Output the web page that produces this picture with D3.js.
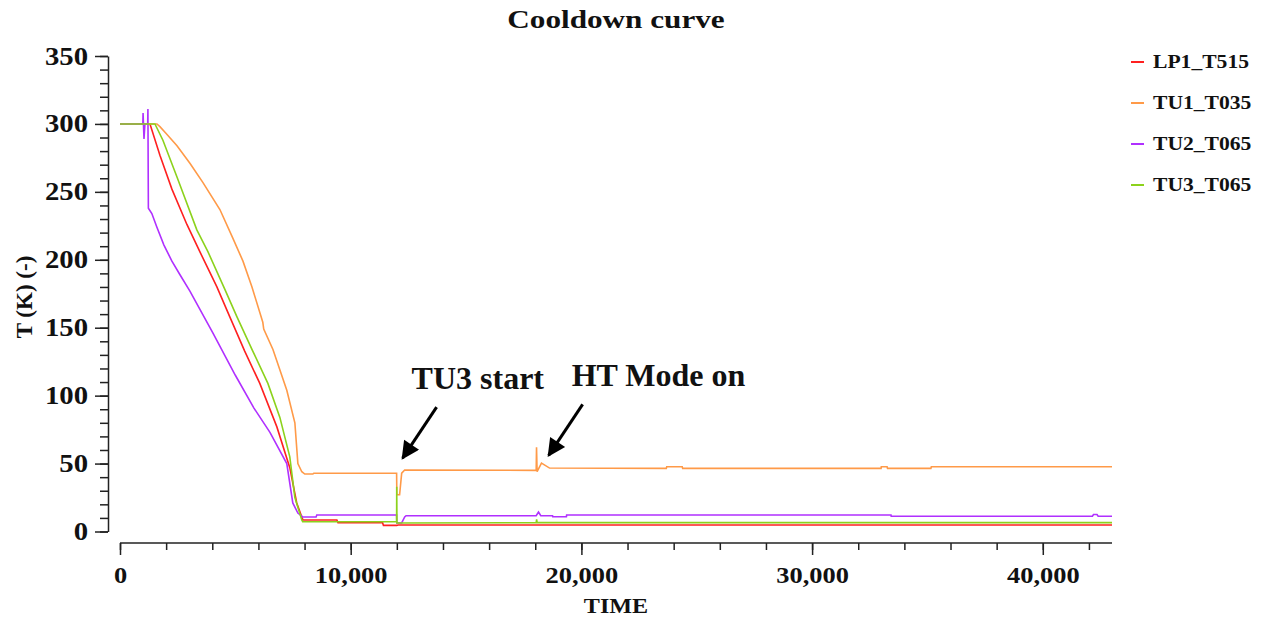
<!DOCTYPE html>
<html>
<head>
<meta charset="utf-8">
<script src="https://cdn.jsdelivr.net/npm/d3@7"></script>
<style>
  body { margin: 0; background: #fff; }
  text { font-family: "Liberation Serif", "Times New Roman", serif; font-weight: bold; fill: #111; }
</style>
</head>
<body>
<div id="chart"></div>
<script>
// chart size
const width = 1270;
const height = 617;

// series : time (s) and temperature (K)
const lp1Time = [0, 1300, 1730, 2250, 2900, 3460, 4200, 4760, 5400, 6060, 6800, 7360, 7660, 7880, 7930, 9400, 9450, 11380, 11420, 12000, 12050, 43000];
const lp1Temp = [300, 300, 277, 252, 226, 206, 180, 158, 133, 109, 77, 47, 21, 10.7, 8.5, 8.5, 6.5, 6.5, 4.5, 4.5, 4.8, 4.8];

const tu1Time = [0, 1600, 1730, 2000, 2470, 3030, 3590, 4330, 4890, 5330, 5720, 6190, 6230, 6630, 7230, 7580, 7710, 7880, 8010, 8360, 8400, 11990, 12000, 12120, 12210, 12340, 18040, 18055, 18080, 18270, 18620, 23680, 23700, 24370, 24390, 32990, 33000, 33250, 33270, 35150, 35170, 43000];
const tu1Temp = [300, 300, 298, 293, 284, 271, 257, 237, 216, 199, 180, 154, 149, 134, 104, 80, 50, 44, 42.3, 42.3, 42.9, 42.9, 27, 27, 42.9, 45.3, 45, 62, 44, 50.4, 46.7, 46.5, 47.7, 47.7, 46.5, 46.5, 47.7, 47.7, 46.5, 46.5, 47.7, 47.7];

const tu2Time = [0, 990, 1000, 1040, 1080, 1200, 1210, 1230, 1380, 1600, 1900, 2250, 2600, 3030, 4030, 5000, 5800, 6500, 7230, 7490, 7710, 7920, 8500, 8530, 11990, 12000, 12210, 12340, 12400, 18040, 18140, 18240, 18750, 18760, 19350, 19360, 33420, 33430, 42150, 42200, 42350, 42400, 43000];
const tu2Temp = [300, 300, 308, 289, 300, 300, 311, 238, 234, 224, 211, 199, 189, 177, 146, 115, 91, 73, 50, 21, 13.6, 10.7, 10.7, 12.1, 12.1, 6.3, 6.3, 10.7, 11.6, 11.6, 14.3, 11.6, 11.6, 10.9, 10.9, 12.1, 12.1, 11.2, 11.2, 12.5, 12.5, 11.2, 11.2];

const tu3Time = [0, 1515, 1860, 2470, 3330, 3810, 4550, 5070, 5750, 6410, 6930, 7360, 7580, 7880, 7920, 11990, 11995, 12005, 18040, 18060, 18080, 43000];
const tu3Temp = [300, 300, 288, 261, 222, 206, 178, 158, 133, 109, 84, 55, 25, 8.5, 7.2, 7.2, 33, 6.3, 6.5, 9, 6.5, 6.5];

const seriesNames = ["LP1_T515", "TU1_T035", "TU2_T065", "TU3_T065"];
const seriesColors = ["#ff2020", "#ff9a48", "#b030ff", "#8cd21c"];

// ticks
const xTicks = [0, 10000, 20000, 30000, 40000];
const yTicks = [0, 50, 100, 150, 200, 250, 300, 350];

// annotations: label, anchor point of the arrow tip
const noteLabels = ["TU3 start", "HT Mode on"];
const noteTime = [12250, 18580];
const noteTemp = [54, 56];

const stretch = 1.15;   // the chart text is drawn wide

const svg = d3.select("#chart")
    .append("svg")
    .attr("width", width)
    .attr("height", height);

svg.append("rect").attr("width", width).attr("height", height).attr("fill", "#fff");

const x = d3.scaleLinear().domain([0, 43000]).range([120, 1112]);
const y = d3.scaleLinear().domain([0, 350]).range([531.5, 56]);

// y axis, pulled left of the plot
const yAxisX = 108;
svg.append("g")
    .attr("transform", `translate(${yAxisX},0)`)
    .call(d3.axisLeft(y).tickValues(d3.range(0, 351, 10)).tickSize(8).tickFormat(""))
    .call(g => g.select(".domain").remove());
const gy = svg.append("g")
    .attr("transform", `translate(${yAxisX},0)`)
    .call(d3.axisLeft(y).tickValues(yTicks).tickSize(13).tickSizeOuter(0).tickPadding(7));
gy.selectAll("text")
    .attr("font-size", 25)
    .attr("x", -20 / stretch)
    .attr("transform", `scale(${stretch},1)`);

// x axis, pulled below the plot
const xAxisY = 543;
svg.append("g")
    .attr("transform", `translate(0,${xAxisY})`)
    .call(d3.axisBottom(x).tickValues(d3.range(0, 43001, 2000)).tickSize(7).tickFormat(""))
    .call(g => g.select(".domain").remove());
const gx = svg.append("g")
    .attr("transform", `translate(0,${xAxisY})`)
    .call(d3.axisBottom(x).tickValues(xTicks).tickSize(12).tickSizeOuter(0).tickPadding(12).tickFormat(d3.format(",")));
gx.selectAll("text")
    .attr("font-size", 23)
    .attr("transform", `scale(${stretch},1)`);
gx.select(".domain").attr("d", `M${x(0)},0H${x(43000)}`);

svg.selectAll(".domain, .tick line").attr("stroke", "#222").attr("stroke-width", 1.5);

// titles
svg.append("text")
    .attr("transform", "translate(616,28) scale(1.2,1)")
    .attr("text-anchor", "middle")
    .attr("font-size", 26)
    .text("Cooldown curve");
svg.append("text")
    .attr("transform", `translate(616,613) scale(${stretch},1)`)
    .attr("text-anchor", "middle")
    .attr("font-size", 21)
    .text("TIME");
svg.append("text")
    .attr("transform", "translate(32,297) rotate(-90)")
    .attr("text-anchor", "middle")
    .attr("font-size", 23)
    .text("T (K) (-)");

// lines
const allTime = [lp1Time, tu1Time, tu2Time, tu3Time];
const allTemp = [lp1Temp, tu1Temp, tu2Temp, tu3Temp];
const line = d3.line().x(d => x(d[0])).y(d => y(d[1]));
seriesNames.forEach(function(name, i){
    const pts = allTime[i].map((t, j) => [t, allTemp[i][j]]);
    svg.append("path")
        .datum(pts)
        .attr("fill", "none")
        .attr("stroke", seriesColors[i])
        .attr("stroke-width", 1.6)
        .attr("d", line);
});

// legend
seriesNames.forEach(function(name, i){
    const ly = 62 + i * 41;
    svg.append("line")
        .attr("x1", 1131).attr("x2", 1144)
        .attr("y1", ly).attr("y2", ly)
        .attr("stroke", seriesColors[i])
        .attr("stroke-width", 2);
    svg.append("text")
        .attr("transform", `translate(1153,${ly}) scale(1.2,1)`)
        .attr("dy", "0.35em")
        .attr("font-size", 18)
        .text(name);
});

// annotations with arrows
svg.append("defs").append("marker")
    .attr("id", "head")
    .attr("viewBox", "0 0 10 10")
    .attr("refX", 9).attr("refY", 5)
    .attr("markerWidth", 7).attr("markerHeight", 6)
    .attr("markerUnits", "strokeWidth")
    .attr("orient", "auto")
    .append("path").attr("d", "M0,0L10,5L0,10Z").attr("fill", "#000");

noteLabels.forEach(function(label, i){
    const tx = x(noteTime[i]), ty = y(noteTemp[i]);
    svg.append("line")
        .attr("x1", tx + 34).attr("y1", ty - 51)
        .attr("x2", tx).attr("y2", ty)
        .attr("stroke", "#000")
        .attr("stroke-width", 3)
        .attr("marker-end", "url(#head)");
    svg.append("text")
        .attr("x", tx + (i == 0 ? 9 : 23))
        .attr("y", ty - 69)
        .attr("font-size", 32)
        .attr("fill", "#000")
        .text(label);
});
</script>
</body>
</html>
